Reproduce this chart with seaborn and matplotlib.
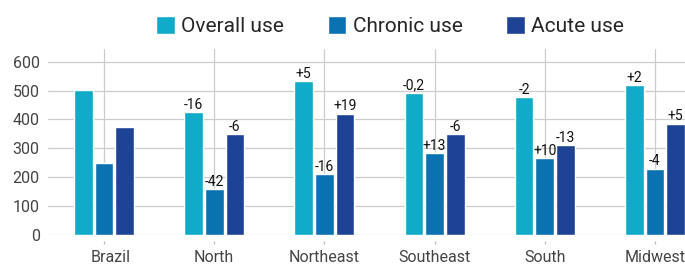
import matplotlib
matplotlib.use("Agg")
import matplotlib.pyplot as plt
import matplotlib.transforms as mtransforms
import seaborn as sns
import pandas as pd

regions = ["Brazil", "North", "Northeast", "Southeast", "South", "Midwest"]
series_names = ["Overall use", "Chronic use", "Acute use"]
overall = [501, 424, 532, 491, 477, 519]
chronic = [249, 158, 210, 283, 266, 228]
acute = [374, 349, 419, 349, 311, 385]
overall_lbl = ["", "-16", "+5", "-0,2", "-2", "+2"]
chronic_lbl = ["", "-42", "-16", "+13", "+10", "-4"]
acute_lbl = ["", "-6", "+19", "-6", "-13", "+5"]
yticks = [0, 100, 200, 300, 400, 500, 600]
colors = ["#10abc9", "#0b72b2", "#1e4294"]

rows = []
for name, vals, lbls in zip(series_names, [overall, chronic, acute],
                            [overall_lbl, chronic_lbl, acute_lbl]):
    for r, v, l in zip(regions, vals, lbls):
        rows.append({"region": r, "series": name, "value": v, "label": l})
df = pd.DataFrame(rows)

sns.set_theme(style="white")
plt.rcParams["font.family"] = ["Roboto", "DejaVu Sans"]

fig = plt.figure(figsize=(6.85, 2.66), dpi=100)
ax = fig.add_axes([48 / 685, 1 - 234.7 / 266, (685 - 48) / 685, (234.7 - 49) / 266])

sns.barplot(data=df, x="region", y="value", hue="series", order=regions,
            hue_order=series_names, palette=colors, width=0.565, gap=0.1,
            saturation=1, ax=ax, legend=True)

ax.set_xlim(-0.508, 5.272)
ax.set_ylim(0, 644)
ax.set_yticks(yticks)
ax.set_xlabel("")
ax.set_ylabel("")
ax.set_axisbelow(True)
ax.grid(True, axis="both", color="#cccccc", linewidth=0.9)
for s in ax.spines.values():
    s.set_visible(False)
ax.spines["bottom"].set_position(("outward", 4.5))
ax.tick_params(axis="y", length=0, pad=6, labelsize=11.5, labelcolor="#444444")
ax.tick_params(axis="x", length=2.5, width=0.9, color="#bbbbbb", pad=4,
               labelsize=11.5, labelcolor="#444444", bottom=True)

# shift first tick label slightly right like the reference
lab0 = ax.get_xticklabels()[0]
lab0.set_transform(lab0.get_transform() + mtransforms.ScaledTranslation(7 / 100, 0, fig.dpi_scale_trans))

# value annotations
for cont, name in zip(ax.containers, series_names):
    sub = df[df["series"] == name].set_index("region").loc[regions]
    for bar, lbl in zip(cont, sub["label"]):
        if lbl:
            ax.annotate(lbl, (bar.get_x() + bar.get_width() / 2, bar.get_height()),
                        xytext=(0, 2.5), textcoords="offset points",
                        ha="center", va="baseline", fontsize=10, color="#111111",
                        annotation_clip=False)

leg = ax.get_legend()
handles = leg.legend_handles
leg.remove()
fig.legend(handles, series_names, loc="center", bbox_to_anchor=(390 / 685, 1 - 26 / 266),
           ncol=3, frameon=False, fontsize=15, handlelength=0.9, handleheight=0.95,
           handletextpad=0.3, columnspacing=2.1, borderaxespad=0, borderpad=0)

fig.savefig("out.png", dpi=100)
